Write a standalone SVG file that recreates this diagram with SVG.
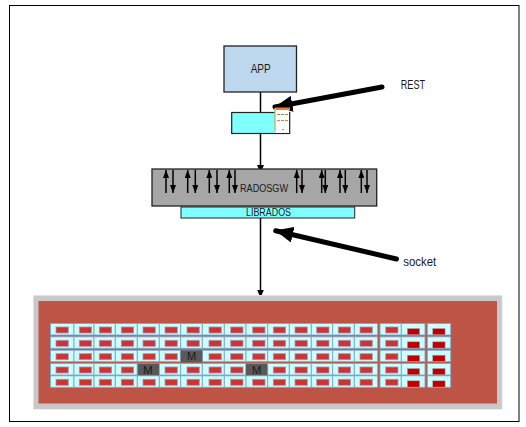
<svg xmlns="http://www.w3.org/2000/svg" width="526" height="427" viewBox="0 0 526 427">
<defs>
<marker id="a" markerUnits="userSpaceOnUse" markerWidth="8" markerHeight="7" refX="8" refY="3.500" orient="auto"><path d="M0 0L8 3.500L0 7z" fill="#000"/></marker>
<marker id="s" markerUnits="userSpaceOnUse" markerWidth="8" markerHeight="6" refX="8" refY="3" orient="auto"><path d="M0 0L8 3L0 6z" fill="#000"/></marker>
<marker id="b" markerUnits="userSpaceOnUse" markerWidth="18" markerHeight="16" refX="17.500" refY="8" orient="auto"><path d="M0 0L18 8L0 16z" fill="#000"/></marker>
<g id="row">
<rect class="cell" x="50.500" y="0.500" width="23.500" height="11.500"/><rect class="cell" x="74" y="0.500" width="20" height="11.500"/><rect class="cell" x="94" y="0.500" width="21.300" height="11.500"/><rect class="cell" x="115.300" y="0.500" width="22" height="11.500"/><rect class="cell" x="137.300" y="0.500" width="22" height="11.500"/><rect class="cell" x="159.300" y="0.500" width="21.400" height="11.500"/><rect class="cell" x="180.700" y="0.500" width="21.600" height="11.500"/><rect class="cell" x="202.300" y="0.500" width="22" height="11.500"/><rect class="cell" x="224.300" y="0.500" width="21.700" height="11.500"/><rect class="cell" x="246" y="0.500" width="21.700" height="11.500"/><rect class="cell" x="267.700" y="0.500" width="21.600" height="11.500"/><rect class="cell" x="289.300" y="0.500" width="22" height="11.500"/><rect class="cell" x="311.300" y="0.500" width="21.400" height="11.500"/><rect class="cell" x="332.700" y="0.500" width="21.600" height="11.500"/><rect class="cell" x="354.300" y="0.500" width="23.400" height="11.500"/><rect class="cell" x="380" y="0.500" width="21.300" height="11.500"/><rect class="cell" x="401.300" y="0.500" width="23.700" height="11.500"/><rect class="cell" x="427.300" y="0.500" width="23.400" height="11.500"/>
<g class="red"><rect x="56" y="4" width="12.300" height="6"/><rect x="79.300" y="4" width="12.300" height="6"/><rect x="99.300" y="4" width="12.300" height="6"/><rect x="121.300" y="4" width="12.300" height="6"/><rect x="143" y="4" width="12.300" height="6"/><rect x="165" y="4" width="12.300" height="6"/><rect x="187" y="4" width="12.300" height="6"/><rect x="209" y="4" width="12.300" height="6"/><rect x="230.700" y="4" width="12.300" height="6"/><rect x="252.700" y="4" width="12.300" height="6"/><rect x="273.300" y="4" width="12.300" height="6"/><rect x="295" y="4" width="12.300" height="6"/><rect x="316.700" y="4" width="12.300" height="6"/><rect x="338.300" y="4" width="12.300" height="6"/><rect x="360" y="4" width="12.300" height="6"/><rect x="385.700" y="4" width="12.300" height="6"/></g>
<g class="dark"><rect x="407.300" y="5.500" width="12.400" height="6.300"/><rect x="432.700" y="5.500" width="12.400" height="6.300"/></g>
</g>
</defs>
<style>
text{font-family:"Liberation Sans",Arial,sans-serif;fill:#1a1a1a}
.cell{fill:#ccffff;stroke:#7da6cc;stroke-width:.9}
.red rect{fill:#cc3333;stroke:#b092ae;stroke-width:.8}
.dark rect{fill:#c00000;stroke:#aab0b8;stroke-width:.5}
.k{stroke:#000;stroke-width:1.500;fill:none;marker-end:url(#s)}
.m{fill:#595959}
</style>
<rect x="0" y="0" width="526" height="427" fill="#fff"/>
<rect id="frame" x="9.500" y="5.500" width="509.500" height="416" fill="#fff" stroke="#000"/>
<g id="connectors" fill="none" stroke="#000">
<path d="M260.500 92V112" stroke-width="1.500"/>
<path d="M260.500 134V173" stroke-width="1.500" marker-end="url(#a)"/>
<path d="M260.500 218V297.500" stroke-width="1.500" marker-end="url(#a)"/>
<path d="M382 87L275 107" stroke-width="5" stroke-linecap="round" marker-end="url(#b)"/>
<path d="M396.500 259L275.700 230.700" stroke-width="5" stroke-linecap="round" marker-end="url(#b)"/>
</g>
<g id="app"><rect x="224" y="46" width="72.500" height="46" fill="#bdd7ee" stroke="#222" stroke-width="1.300"/><text x="250.700" y="72.700" font-size="12.500" textLength="20" lengthAdjust="spacingAndGlyphs">APP</text></g>
<g id="rest"><text x="400.700" y="89" font-size="12.500" textLength="24.500" lengthAdjust="spacingAndGlyphs">REST</text></g>
<g id="socket"><text x="403.300" y="265.500" font-size="12.500" textLength="33" lengthAdjust="spacingAndGlyphs">socket</text></g>
<g id="proxy"><rect x="231.700" y="112.500" width="58" height="21" fill="#7fffff" stroke="#222" stroke-width="1.200"/>
<rect x="275" y="108" width="14" height="25" fill="#fff"/><rect x="275" y="107.500" width="15" height="2.500" fill="#ed7d31"/><path d="M275 108V131" stroke="#a9c77f" stroke-width="1.500"/><path d="M277 114.500H288" stroke="#7f9f50" stroke-dasharray="3 1"/><path d="M277 120.500H288" stroke="#ed7d31" stroke-dasharray="3 1"/><path d="M282 129.500H284" stroke="#ed7d31"/>
</g>
<g id="radosgw"><rect x="152" y="169" width="224.700" height="37" fill="#a6a6a6" stroke="#222" stroke-width="1.300"/>
<g class="arrows">
<path class="k" d="M166 193V170"/><path class="k" d="M173 170V193"/>
<path class="k" d="M187.700 193V170"/><path class="k" d="M195.300 170V193"/>
<path class="k" d="M209.300 193V170"/><path class="k" d="M217 170V193"/>
<path class="k" d="M229.300 193V170"/><path class="k" d="M235 170V193"/>
<path class="k" d="M296.700 193V170"/><path class="k" d="M302 170V193"/>
<path class="k" d="M321.700 193V170"/><path class="k" d="M325.300 170V193"/>
<path class="k" d="M340 193V170"/><path class="k" d="M345.300 170V193"/>
<path class="k" d="M361.300 193V170"/><path class="k" d="M367 170V193"/>
</g><text x="240" y="192.300" font-size="11.500" textLength="48" lengthAdjust="spacingAndGlyphs">RADOSGW</text></g>
<g id="librados"><rect x="181" y="207" width="173.700" height="11" fill="#7fffff" stroke="#222"/><text x="246" y="215.700" font-size="10" textLength="45" lengthAdjust="spacingAndGlyphs">LIBRADOS</text></g>
<g id="cluster"><rect x="33" y="295" width="470" height="115" fill="#e9eef7"/><rect x="33.700" y="295.700" width="468" height="113.300" fill="#c8c8c8"/><rect x="38.500" y="301" width="458.500" height="102.500" fill="#be5446"/>
<g id="rows">
<use href="#row" y="323"/><use href="#row" y="336.300"/><use href="#row" y="349.700"/><use href="#row" y="363"/><use href="#row" y="375.300"/>
</g>
<rect class="m" x="180.700" y="350.300" width="21.600" height="12"/><rect class="m" x="137.700" y="363.700" width="21.300" height="11.500"/><rect class="m" x="246" y="363.700" width="21.300" height="11.500"/>
<text x="191.700" y="360" font-size="11" text-anchor="middle">M</text><text x="147.700" y="373.700" font-size="11.500" text-anchor="middle">M</text><text x="256.500" y="373.700" font-size="11.500" text-anchor="middle">M</text>
</g>
</svg>
